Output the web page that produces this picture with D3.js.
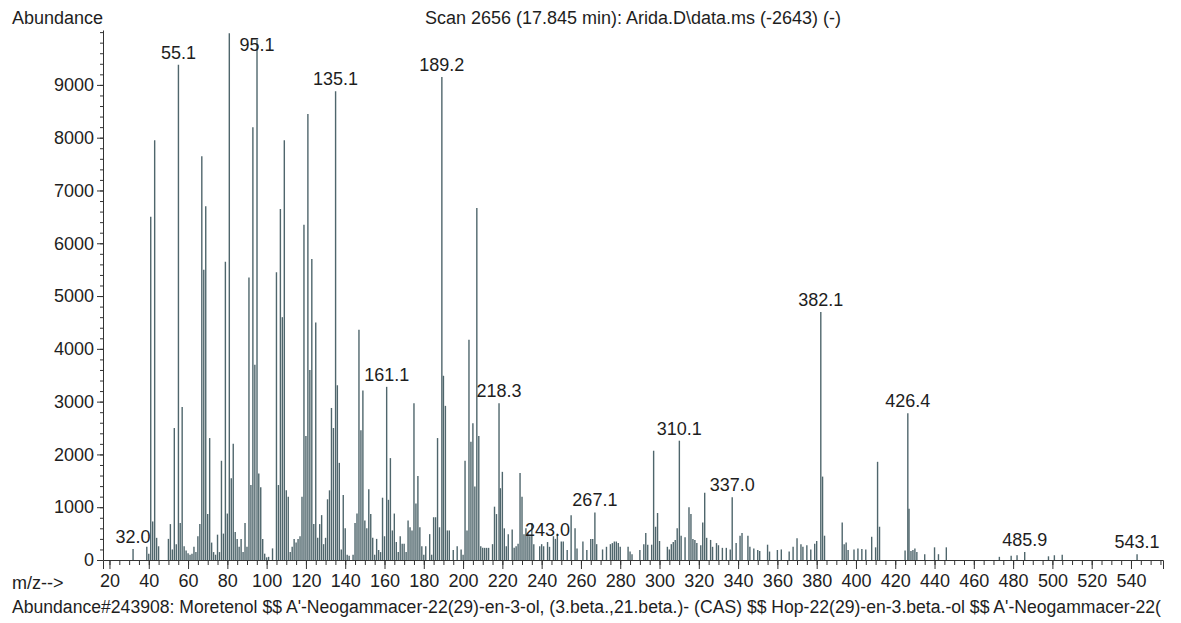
<!DOCTYPE html>
<html>
<head>
<meta charset="utf-8">
<script src="https://cdn.jsdelivr.net/npm/d3@7"></script>
<style>
  body { margin: 0; background: #ffffff; }
  text { font-family: "Liberation Sans", Arial, sans-serif; fill: #1e1e1e; }
</style>
</head>
<body>
<svg id="chart" width="1181" height="623"></svg>
<script>
// Mass spectrum, scan 2656: m/z of each ion and its abundance
const mzValues = [
  32.0, 39, 40, 41, 42, 43, 44, 45, 50, 51, 52, 53, 54, 55.1, 56, 57, 58, 59, 60, 61,
  62, 63, 64, 65, 66, 67, 68, 69, 70, 71, 72, 73, 74, 75, 76, 77, 78, 79, 80, 81,
  82, 83, 84, 85, 86, 87, 88, 89, 90, 91, 92, 93, 94, 95.1, 96, 97, 98, 99, 100, 101,
  103, 105, 106, 107, 108, 109, 110, 111, 112, 113, 114, 115, 116, 117, 118, 119, 120, 121, 122, 123,
  124, 125, 126, 127, 128, 129, 130, 131, 132, 133, 134, 135.1, 136, 137, 138, 139, 140, 141, 142, 144,
  145, 146, 147, 148, 149, 150, 151, 152, 153, 154, 155, 156, 157, 158, 159, 160, 161.1, 162, 163, 164,
  165, 166, 167, 168, 169, 170, 171, 172, 173, 174, 175, 176, 177, 178, 179, 180, 181, 183, 184, 185,
  186, 187, 188, 189.2, 190, 191, 192, 193, 195, 197, 199, 200, 201, 202, 203, 204, 205, 206, 207, 208,
  209, 210, 211, 212, 213, 215, 216, 217, 218.3, 219, 220, 221, 222, 223, 225, 226, 227, 228, 229, 230,
  231, 232, 233, 234, 235, 236, 239, 240, 241, 243.0, 244, 246, 247, 248, 250, 251, 253, 255, 257, 258,
  261, 263, 265, 266, 267.1, 268, 271, 273, 275, 276, 277, 278, 279, 280, 284, 285, 286, 290, 292, 293,
  294, 296, 297, 298, 299, 300, 304, 305, 306, 307, 308, 309, 310.1, 311, 313, 315, 316, 317, 318, 319,
  321, 322, 323, 324, 326, 327, 329, 330, 332, 334, 336, 337.0, 339, 341, 342, 345, 346, 348, 350, 351,
  355, 356, 360, 362, 366, 368, 370, 372, 373, 375, 377, 379, 380, 382.1, 383, 384, 393, 394, 395, 396,
  399, 401, 403, 405, 408, 410, 411, 412, 425, 426.4, 427, 428, 429, 430, 431, 435, 440, 442, 446, 473,
  479, 482, 485.9, 498, 501, 505, 543.1
];
const abundances = [
  210, 250, 120, 6500, 730, 7950, 420, 260, 400, 680, 200, 2500, 300, 9380, 700, 2900, 260, 180, 130, 100,
  120, 250, 150, 450, 680, 7650, 5500, 6700, 870, 2310, 330, 150, 100, 480, 150, 1880, 500, 5650, 880, 9980,
  1550, 2200, 530, 400, 250, 400, 150, 700, 250, 5350, 1420, 8200, 3700, 9850, 1640, 1380, 400, 120, 50, 60,
  220, 5450, 1420, 6650, 4600, 7950, 1320, 1200, 150, 250, 400, 330, 400, 450, 1200, 6350, 2350, 8450, 3600, 5700,
  680, 4500, 420, 680, 850, 300, 420, 1150, 1320, 2880, 2500, 8880, 3310, 1840, 200, 1230, 600, 100, 80, 100,
  700, 880, 4360, 2460, 3210, 750, 600, 1340, 870, 420, 100, 400, 190, 150, 1180, 450, 3280, 1140, 1930, 560,
  880, 340, 150, 450, 310, 310, 150, 750, 620, 560, 2970, 1070, 1590, 620, 260, 100, 260, 490, 100, 810,
  810, 2310, 620, 9150, 3490, 2920, 560, 560, 190, 260, 200, 100, 1880, 560, 4170, 2240, 2590, 1390, 6670, 2350,
  260, 230, 230, 230, 230, 300, 1010, 870, 2970, 1360, 1670, 600, 260, 490, 580, 230, 260, 310, 1650, 1200,
  490, 600, 500, 450, 700, 300, 260, 300, 260, 340, 250, 450, 400, 500, 350, 350, 190, 850, 600, 220,
  350, 190, 400, 400, 900, 300, 200, 250, 300, 320, 350, 350, 320, 250, 250, 160, 110, 190, 300, 510,
  290, 290, 2070, 630, 890, 360, 250, 200, 300, 340, 380, 600, 2260, 460, 430, 1000, 870, 400, 380, 320,
  280, 710, 1275, 420, 380, 250, 320, 280, 230, 230, 200, 1190, 320, 460, 510, 460, 250, 220, 190, 170,
  290, 160, 190, 200, 160, 250, 410, 300, 250, 280, 200, 310, 360, 4700, 1580, 460, 710, 300, 330, 190,
  200, 220, 210, 200, 440, 240, 1860, 630, 180, 2780, 970, 170, 190, 220, 150, 110, 240, 110, 240, 60,
  80, 90, 150, 70, 90, 100, 110
];
// Peaks annotated with their m/z
const labelledMz = [32.0, 55.1, 95.1, 135.1, 161.1, 189.2, 218.3, 243.0, 267.1, 310.1, 337.0, 382.1, 426.4, 485.9, 543.1];
// Axis ticks
const yTickValues = [0, 1000, 2000, 3000, 4000, 5000, 6000, 7000, 8000, 9000];
const xTickValues = [20, 40, 60, 80, 100, 120, 140, 160, 180, 200, 220, 240, 260, 280, 300, 320, 340, 360, 380, 400, 420, 440, 460, 480, 500, 520, 540];

const titleText = "Scan 2656 (17.845 min): Arida.D\\data.ms (-2643) (-)";
const libraryText = "Abundance#243908: Moretenol $$ A'-Neogammacer-22(29)-en-3-ol, (3.beta.,21.beta.)- (CAS) $$ Hop-22(29)-en-3.beta.-ol $$ A'-Neogammacer-22(";

const svg = d3.select("#chart");
const FONT = 18;

const x = d3.scaleLinear().domain([16.7, 556.3]).range([103, 1163]);
const y = d3.scaleLinear().domain([0, 10040]).range([560, 30]);

const peaks = mzValues.map((m, i) => ({ mz: m, ab: abundances[i] }));

// spectrum sticks
svg.append("g")
  .selectAll("line")
  .data(peaks)
  .join("line")
  .attr("x1", d => x(d.mz)).attr("x2", d => x(d.mz))
  .attr("y1", y(0)).attr("y2", d => y(d.ab))
  .attr("stroke", "#4f666c")
  .attr("stroke-width", 1.4);

// y axis: minor then major ticks
const yMinor = svg.append("g").attr("transform", "translate(103,0)")
  .call(d3.axisLeft(y).tickValues(d3.range(0, 10001, 200)).tickSize(3).tickFormat(""));
yMinor.select(".domain").remove();
svg.append("g").attr("transform", "translate(103,0)")
  .call(d3.axisLeft(y).tickValues(yTickValues).tickSize(6).tickSizeOuter(0).tickPadding(3)
    .tickFormat(d3.format("d")));

// x axis: minor then major ticks
const xMinor = svg.append("g").attr("transform", `translate(0,${y(0)})`)
  .call(d3.axisBottom(x).tickValues(d3.range(20, 556, 5)).tickSize(5).tickFormat(""));
xMinor.select(".domain").remove();
svg.append("g").attr("transform", `translate(0,${y(0)})`)
  .call(d3.axisBottom(x).tickValues(xTickValues).tickSize(9).tickSizeOuter(9).tickPadding(5));

svg.selectAll(".tick line, .domain").attr("stroke", "#333").attr("stroke-width", 1);
svg.selectAll(".tick text").attr("font-size", FONT).attr("fill", "#1e1e1e")
  .style("font-family", '"Liberation Sans", Arial, sans-serif');

// peak annotations
svg.append("g")
  .selectAll("text")
  .data(peaks.filter(p => labelledMz.includes(p.mz)))
  .join("text")
  .attr("x", d => x(d.mz))
  .attr("y", d => Math.max(y(d.ab) - 6, 51))
  .attr("text-anchor", "middle")
  .attr("font-size", FONT)
  .text(d => d.mz.toFixed(1));

// header and footer texts
svg.append("text").attr("x", 12).attr("y", 24).attr("font-size", FONT).text("Abundance");
svg.append("text").attr("x", 633).attr("y", 24).attr("text-anchor", "middle").attr("font-size", FONT).text(titleText);
svg.append("text").attr("x", 12).attr("y", 589).attr("font-size", FONT).text("m/z-->");
svg.append("text").attr("x", 12).attr("y", 613).attr("font-size", 17.6).text(libraryText);
</script>
</body>
</html>
